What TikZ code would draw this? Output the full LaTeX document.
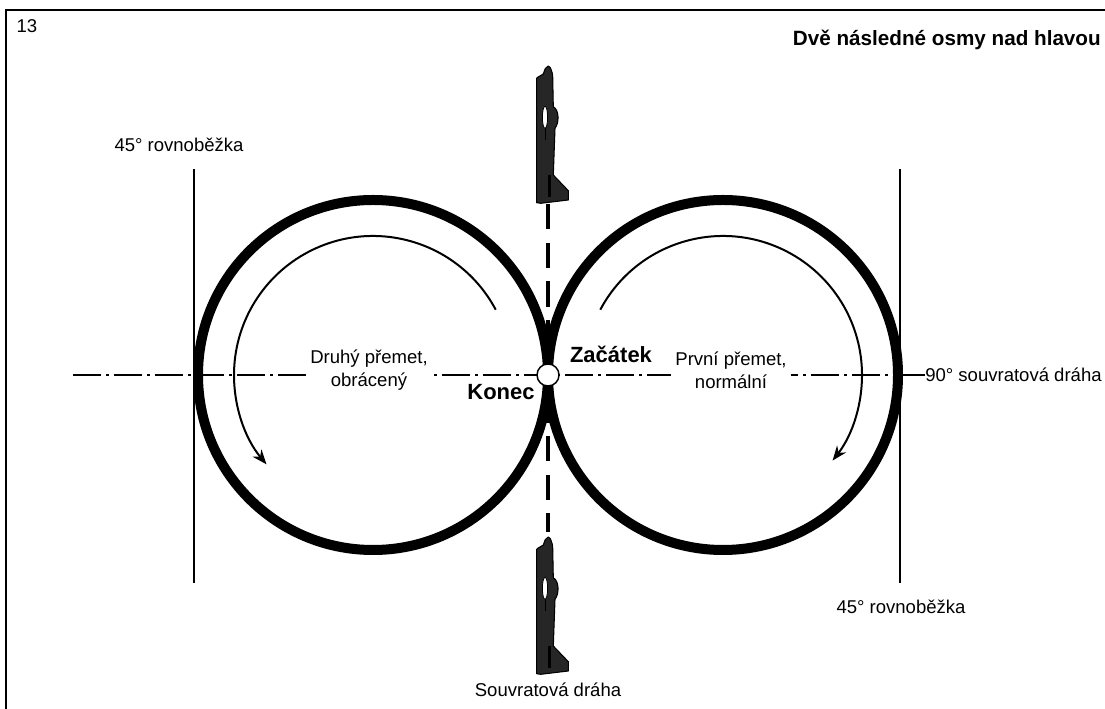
\documentclass[tikz,border=0pt]{standalone}
\usepackage{fontspec}
\setmainfont{Liberation Sans}
\usetikzlibrary{arrows.meta}
\begin{document}
\begin{tikzpicture}[x=0.75pt,y=0.75pt,
  lbl/.style={font=\fontsize{13.9}{17}\selectfont, inner sep=0pt, align=center},
  bigb/.style={font=\fontsize{16.5}{19}\selectfont\bfseries, inner sep=0pt},
  gaplbl/.style={lbl, fill=white, inner xsep=3.5pt, inner ysep=1pt},
  loopline/.style={line width=7.5pt},
  guide/.style={line width=1.6pt},
  axisline/.style={line width=1.9pt, dash pattern=on 21pt off 3.75pt on 2.25pt off 3.75pt},
  track/.style={line width=3.2pt, dash pattern=on 19pt off 10pt},
  turn/.style={line width=1.5pt, -{Stealth[length=11pt,width=8.5pt]}},
  jetpic/.pic={
    \begin{scope}[yscale=-1]
      \draw[fill=black!85, line width=0.8pt, line join=round]
        (0,0) .. controls (2,1) .. (4,7.3) -- (4.4,10.7) -- (5,40.7)
        .. controls (11,44) and (11,57) .. (6.7,62.3) -- (5,109)
        -- (20,124.7) -- (20,134) -- (-7.6,137.3) -- (-11.6,136.7)
        -- (-11.6,12.3) -- (-10.6,11.3) -- (-5,8) .. controls (-3,2) .. cycle;
      \draw[fill=white, line width=0.6pt] (-3.3,51.3) ellipse[x radius=2.6, y radius=11];
      \draw[line width=0.6pt] (-3.3,62.3) -- (-3.3,74);
      \draw[line width=2pt] (1,109) -- (1,131);
    \end{scope}
  }
]
\useasboundingbox (0,0) rectangle (1105,709);
% frame
\draw[line width=1.2pt] (6,0) -- (6,699) -- (1105,699);

% key coordinates
\coordinate (cl) at (373,334);
\coordinate (cr) at (723,334);
\coordinate (mid) at (548,334);
\coordinate (axL) at (73,334);
\coordinate (axR) at (900,334);
\coordinate (topjet) at (548,505);
\coordinate (botjet) at (548,177);
\coordinate (g1t) at (194,540);
\coordinate (g1b) at (194,126);
\coordinate (g2t) at (900,540);
\coordinate (g2b) at (900,126);

% horizontal axis
\draw[axisline] (axL) -- (axR);
\node[lbl, anchor=west] (deg90) at (925,334) {90° souvratová dráha};
\draw[line width=1.9pt] (axR) -- (deg90.west);

% 45 degree guide lines
\draw[guide] (g1t) -- (g1b);
\draw[guide] (g2t) -- (g2b);

% vertical track
\draw[track] (topjet) -- (botjet);

% loops
\draw[loopline] (cl) circle[radius=175];
\draw[loopline] (cr) circle[radius=175];

% direction arrows
\draw[turn] (cl) ++(28:139) arc[start angle=28, end angle=220, radius=139];
\draw[turn] (cr) ++(152:139) arc[start angle=152, end angle=-38, radius=139];

% centre marker
\node[circle, draw, fill=white, line width=1.1pt, minimum size=16.5pt, inner sep=0pt] (start) at (mid) {};

% aircraft
\pic at (548.3,643) {jetpic};
\pic at (548.3,172) {jetpic};

% labels
\node[gaplbl] (second) at (369,339) {Druhý přemet,\\obrácený};
\node[gaplbl] (first) at (731,339) {První přemet,\\normální};
\node[bigb] (zac) at (611,355) {Začátek};
\node[bigb] (kon) at (501,317) {Konec};
\node[lbl] (num) at (27,683) {13};
\node[bigb, anchor=east, font=\fontsize{15.5}{18}\selectfont\bfseries] (title) at (1101,669) {Dvě následné osmy nad hlavou};
\node[lbl] (par1) at (179,564) {45° rovnoběžka};
\node[lbl] (par2) at (901,102) {45° rovnoběžka};
\node[lbl] (svr) at (548,19) {Souvratová dráha};
\end{tikzpicture}
\end{document}
